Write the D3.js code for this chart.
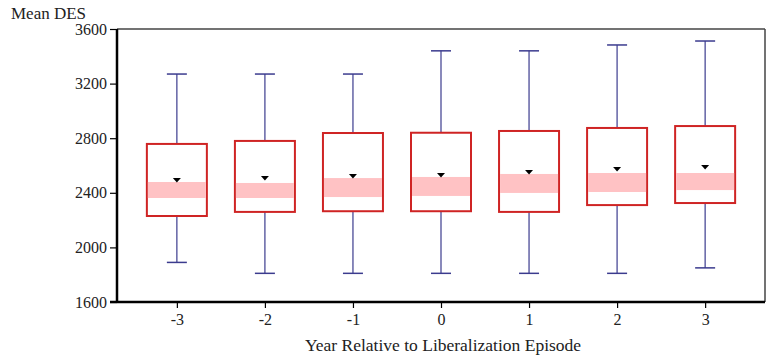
<!DOCTYPE html>
<html>
<head>
<meta charset="utf-8">
<script src="https://cdn.jsdelivr.net/npm/d3@7"></script>
<style>
  body { margin: 0; background: #fff; }
  svg text { font-family: "Liberation Serif", "DejaVu Serif", serif; fill: #222; }
  .axis text { font-size: 16px; font-family: "Liberation Serif", serif; }
</style>
</head>
<body>
<svg id="chart" width="767" height="361"></svg>
<script>
// values
var years     = ["-3", "-2", "-1", "0", "1", "2", "3"];
var whiskLow  = [1890, 1810, 1810, 1810, 1810, 1810, 1850];
var boxLow    = [2230, 2260, 2265, 2265, 2260, 2310, 2325];
var bandLow   = [2362, 2362, 2369, 2377, 2399, 2406, 2420];
var bandHigh  = [2479, 2472, 2508, 2516, 2538, 2545, 2545];
var means     = [2494, 2508, 2523, 2530, 2552, 2574, 2589];
var boxHigh   = [2758, 2780, 2838, 2840, 2853, 2875, 2889];
var whiskHigh = [3270, 3270, 3270, 3440, 3440, 3483, 3512];
var yTicks    = [1600, 2000, 2400, 2800, 3200, 3600];

var plotLeft = 117, plotRight = 765, plotTop = 29, plotBottom = 302;
var serif = "Liberation Serif, serif";

var svg = d3.select("#chart");

var x = d3.scalePoint().domain(years).range([plotLeft, plotRight]).padding(0.68);
var y = d3.scaleLinear().domain([1600, 3600]).range([plotBottom, plotTop]);

var data = years.map(function(yr, i) {
    return {
        year: yr, wl: whiskLow[i], bl: boxLow[i], ql: bandLow[i],
        qh: bandHigh[i], mean: means[i], bh: boxHigh[i], wh: whiskHigh[i]
    };
});

// frame (top and right)
svg.append("line").attr("x1", plotLeft).attr("x2", plotRight).attr("y1", plotTop).attr("y2", plotTop)
    .attr("stroke", "#444").attr("stroke-width", 1.5);
svg.append("line").attr("x1", plotRight).attr("x2", plotRight).attr("y1", plotTop).attr("y2", plotBottom)
    .attr("stroke", "#444").attr("stroke-width", 1.5);

var boxW = 60, capW = 20;
var whisk = "#3b3b8e", boxStroke = "#cf2424";

var g = svg.selectAll(".box").data(data).enter().append("g").attr("class", "box");

// whiskers
g.append("line")
    .attr("x1", function(d) { return x(d.year); }).attr("x2", function(d) { return x(d.year); })
    .attr("y1", function(d) { return y(d.wh); }).attr("y2", function(d) { return y(d.bh); })
    .attr("stroke", whisk).attr("stroke-width", 1.2);
g.append("line")
    .attr("x1", function(d) { return x(d.year); }).attr("x2", function(d) { return x(d.year); })
    .attr("y1", function(d) { return y(d.bl); }).attr("y2", function(d) { return y(d.wl); })
    .attr("stroke", whisk).attr("stroke-width", 1.2);
g.append("line")
    .attr("x1", function(d) { return x(d.year) - capW / 2; }).attr("x2", function(d) { return x(d.year) + capW / 2; })
    .attr("y1", function(d) { return y(d.wh); }).attr("y2", function(d) { return y(d.wh); })
    .attr("stroke", whisk).attr("stroke-width", 1.5);
g.append("line")
    .attr("x1", function(d) { return x(d.year) - capW / 2; }).attr("x2", function(d) { return x(d.year) + capW / 2; })
    .attr("y1", function(d) { return y(d.wl); }).attr("y2", function(d) { return y(d.wl); })
    .attr("stroke", whisk).attr("stroke-width", 1.5);

// box
g.append("rect")
    .attr("x", function(d) { return x(d.year) - boxW / 2; })
    .attr("width", boxW)
    .attr("y", function(d) { return y(d.bh); })
    .attr("height", function(d) { return y(d.bl) - y(d.bh); })
    .attr("fill", "#fff").attr("stroke", boxStroke).attr("stroke-width", 2);

// pink band
g.append("rect")
    .attr("x", function(d) { return x(d.year) - boxW / 2 + 1; })
    .attr("width", boxW - 2)
    .attr("y", function(d) { return y(d.qh); })
    .attr("height", function(d) { return y(d.ql) - y(d.qh); })
    .attr("fill", "#ffc2c4");

// mean marker
g.append("path")
    .attr("d", function(d) {
        var cx = x(d.year), cy = y(d.mean);
        return "M" + (cx - 4) + "," + (cy - 2) + "L" + (cx + 4) + "," + (cy - 2) + "L" + cx + "," + (cy + 2.5) + "Z";
    })
    .attr("fill", "#000");

// axes
var yAxis = svg.append("g").attr("class", "axis").attr("transform", "translate(" + plotLeft + ",0)")
    .call(d3.axisLeft(y).tickValues(yTicks).tickSize(7).tickPadding(3).tickFormat(d3.format("d")));
yAxis.attr("font-family", serif).attr("font-size", 16);
yAxis.select(".domain").attr("stroke", "#000").attr("stroke-width", 2.5).attr("d", "M0," + plotTop + "V" + plotBottom);
yAxis.selectAll(".tick line").attr("stroke", "#000").attr("stroke-width", 1.2);
yAxis.selectAll(".tick text").attr("fill", "#222").style("font-family", serif);

var xAxis = svg.append("g").attr("class", "axis").attr("transform", "translate(0," + plotBottom + ")")
    .call(d3.axisBottom(x).tickSize(6).tickPadding(6));
xAxis.attr("font-family", serif).attr("font-size", 16);
xAxis.select(".domain").attr("stroke", "#000").attr("stroke-width", 2.5).attr("d", "M" + (plotLeft - 7) + ",0H" + plotRight);
xAxis.selectAll(".tick line").attr("stroke", "#000").attr("stroke-width", 1.2);
xAxis.selectAll(".tick text").attr("fill", "#222").style("font-family", serif);

svg.append("text").attr("x", 11).attr("y", 19).style("font-size", "17px").text("Mean DES");
svg.append("text").attr("x", 443).attr("y", 351).attr("text-anchor", "middle")
    .style("font-size", "17.5px").text("Year Relative to Liberalization Episode");
</script>
</body>
</html>
